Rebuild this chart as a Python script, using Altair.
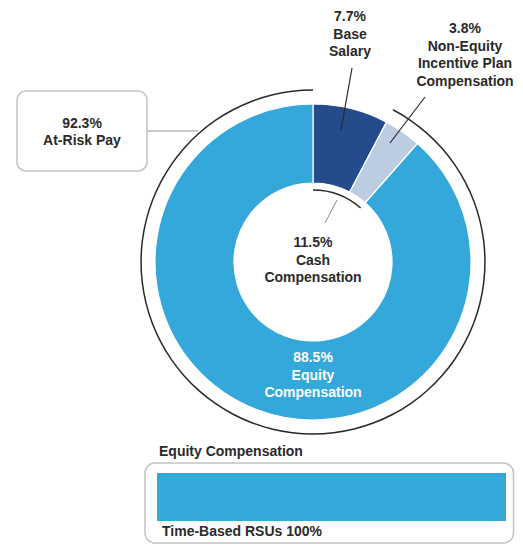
import altair as alt
import pandas as pd

# ---- data ----
segments = ["Base Salary", "Non-Equity Incentive Plan Compensation", "Equity Compensation"]
seg_values = [7.7, 3.8, 88.5]
seg_lines = [["Base", "Salary"], ["Non-Equity", "Incentive Plan", "Compensation"], ["Equity", "Compensation"]]
seg_colors = ["#244b8b", "#bccde2", "#35a8db"]

cash_label = ["Cash", "Compensation"]
cash_value = 11.5          # Base Salary + Non-Equity
at_risk_label = ["At-Risk Pay"]
at_risk_value = 92.3       # Non-Equity + Equity

equity_title = "Equity Compensation"
equity_parts = ["Time-Based RSUs"]
equity_part_values = [100]

FONT = "Liberation Sans"
TXT = "#2a2a2a"
CX, CY = 305, 254

def lab(value, lines):
    return "\n".join([f"{value}%"] + lines)

seg_df = pd.DataFrame({"segment": segments, "value": seg_values, "order": [0, 1, 2]})

donut = alt.Chart(seg_df).mark_arc(radius=158, radius2=79, stroke="white", strokeWidth=1.2).encode(
    theta=alt.Theta("value:Q", stack=True),
    order=alt.Order("order:Q"),
    color=alt.Color("segment:N", scale=alt.Scale(domain=segments, range=seg_colors), legend=None),
    x=alt.value(CX), y=alt.value(CY),
)

# outer ring marking At-Risk Pay (starts after Base Salary)
outer_df = pd.DataFrame({"part": ["Base Salary", "At-Risk Pay"],
                         "value": [round(100 - at_risk_value, 1), at_risk_value],
                         "show": [0, 1], "order": [0, 1]})
outer = alt.Chart(outer_df).mark_arc(radius=172.7, radius2=171.2, fill="#2a2a2a").encode(
    theta=alt.Theta("value:Q", stack=True),
    order=alt.Order("order:Q"),
    opacity=alt.Opacity("show:Q", scale=None),
    x=alt.value(CX), y=alt.value(CY),
)

# inner ring marking Cash Compensation
inner_df = pd.DataFrame({"part": ["Cash", "Equity"],
                         "value": [cash_value, round(100 - cash_value, 1)],
                         "show": [1, 0], "order": [0, 1]})
inner = alt.Chart(inner_df).mark_arc(radius=72.8, radius2=71.3, fill="#2a2a2a").encode(
    theta=alt.Theta("value:Q", stack=True),
    order=alt.Order("order:Q"),
    opacity=alt.Opacity("show:Q", scale=None),
    x=alt.value(CX), y=alt.value(CY),
)

one = pd.DataFrame({"k": [0]})

def rule(x, y, x2, y2, color="#2a2a2a", w=1.2):
    return alt.Chart(one).mark_rule(color=color, strokeWidth=w).encode(
        x=alt.value(x), y=alt.value(y), x2=alt.value(x2), y2=alt.value(y2))

def text(s, x, y, color=TXT, align="center"):
    return alt.Chart(pd.DataFrame({"t": [s]})).mark_text(
        font=FONT, fontSize=14, fontWeight="bold", color=color, align=align,
        baseline="middle", lineBreak="\n", lineHeight=17.5).encode(
        text="t:N", x=alt.value(x), y=alt.value(y))

leaders = [
    rule(344, 60, 333, 122),
    rule(417, 89, 382, 135),
    rule(329, 192, 317, 215, color="#8a8a8a", w=1),
    rule(139, 123, 190, 123, color="#b8b8b8", w=1.5),
]

risk_box = alt.Chart(one).mark_rect(cornerRadius=9, fill="white", stroke="#c2c2c2", strokeWidth=1.5).encode(
    x=alt.value(9), x2=alt.value(139), y=alt.value(83), y2=alt.value(163))

labels = [
    text(lab(seg_values[0], seg_lines[0]), 342, 9),
    text(lab(seg_values[1], seg_lines[1]), 457, 21),
    text(lab(at_risk_value, at_risk_label), 74, 115.5),
    text(lab(cash_value, cash_label), 305, 235),
    text(lab(seg_values[2], seg_lines[2]), 305, 350, color="white"),
]

# ---- equity compensation breakdown ----
eq_box = alt.Chart(one).mark_rect(cornerRadius=10, fill="white", stroke="#c2c2c2", strokeWidth=1.5).encode(
    x=alt.value(137), x2=alt.value(505.5), y=alt.value(455), y2=alt.value(535))

eq_df = pd.DataFrame({"part": equity_parts, "value": equity_part_values})
eq_df["end"] = eq_df["value"].cumsum()
eq_df["start"] = eq_df["end"] - eq_df["value"]
eq_bar = alt.Chart(eq_df).mark_rect(color="#35a8db").encode(
    x=alt.X("start:Q", scale=alt.Scale(domain=[0, 100], range=[149, 498]), axis=None),
    x2="end:Q",
    y=alt.value(465), y2=alt.value(513),
)
eq_title = text(equity_title, 151, 444, align="left")
eq_label = text(f"{equity_parts[0]} {equity_part_values[0]}%", 154, 524, align="left")

chart = alt.layer(
    outer, inner, donut, risk_box, *leaders, *labels, eq_box, eq_bar, eq_title, eq_label
).resolve_scale(theta="independent").properties(
    width=507, height=536, padding=0, autosize=alt.AutoSizeParams(type="none")
).configure_view(stroke=None)

chart.save("out.html", embed_options={"renderer": "svg", "actions": False})
